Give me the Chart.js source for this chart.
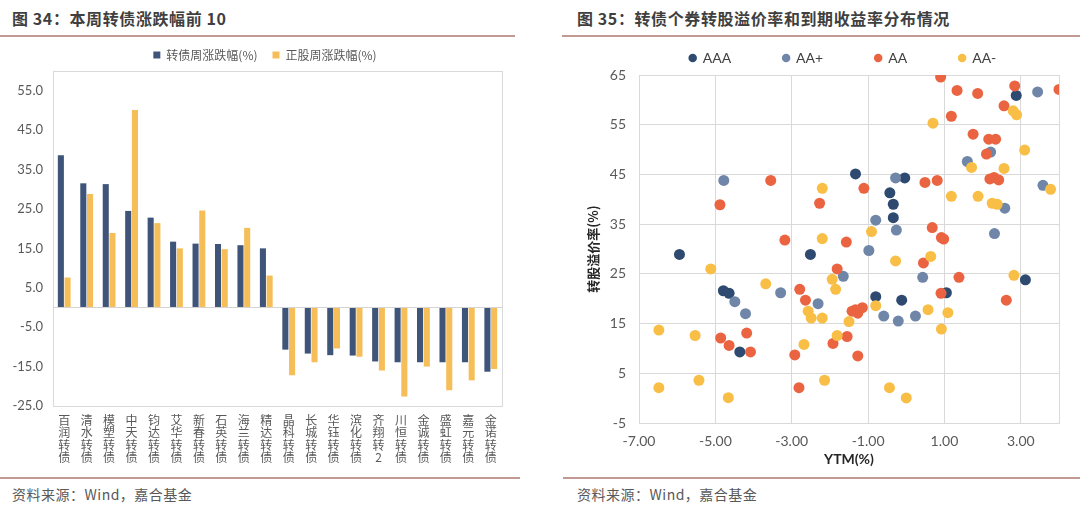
<!DOCTYPE html>
<html><head><meta charset="utf-8">
<script src="https://cdn.jsdelivr.net/npm/chart.js@4.4.0/dist/chart.umd.min.js"></script>
<style>
body{margin:0;width:1080px;height:510px;background:#fff;position:relative;overflow:hidden;font-family:"Noto Sans CJK SC",sans-serif;}
.title{position:absolute;top:6px;font-size:16px;font-weight:bold;color:#3f3f3f;letter-spacing:0.6px;white-space:nowrap}
.rule{position:absolute;height:1.5px;background:#c29a94}
.src{position:absolute;top:484px;font-size:14px;color:#595959;white-space:nowrap;letter-spacing:0.5px}
canvas{position:absolute}
</style></head>
<body>
<div class="title" style="left:12px">图 34：本周转债涨跌幅前 10</div>
<div class="rule" style="left:0;top:35px;width:515px"></div>
<div class="title" style="left:577px">图 35：转债个券转股溢价率和到期收益率分布情况</div>
<div class="rule" style="left:562px;top:35px;width:518px"></div>
<canvas id="c1" width="530" height="440" style="left:0;top:40px"></canvas>
<canvas id="c2" width="540" height="435" style="left:540px;top:40px"></canvas>
<div class="rule" style="left:0;top:477px;width:520px"></div>
<div class="rule" style="left:563px;top:477px;width:517px"></div>
<div class="src" style="left:12px">资料来源：Wind，嘉合基金</div>
<div class="src" style="left:577px">资料来源：Wind，嘉合基金</div>
<script>
// ---- Figure 34 data ----
const bondNames = ['百润转债','清水转债','模塑转债','中天转债','钧达转债','艾华转债','新春转债','石英转债','海兰转债','精达转债',
  '晶科转债','长城转债','华钰转债','滨化转债','齐翔转2','川恒转债','金诚转债','盛虹转债','嘉元转债','金诺转债'];
const bondWeekly = [38.6, 31.5, 31.3, 24.5, 22.8, 16.7, 16.2, 16.1, 15.8, 15.0,
  -10.7, -11.7, -12.1, -12.2, -13.7, -13.9, -13.9, -13.9, -13.9, -16.3];
const stockWeekly = [7.6, 28.8, 18.9, 50.1, 21.4, 15.0, 24.6, 14.8, 20.2, 8.1,
  -17.2, -13.9, -10.4, -12.5, -16.0, -22.6, -15.0, -21.0, -18.5, -15.6];
const barTicks = [-25, -15, -5, 5, 15, 25, 35, 45, 55];

// ---- Figure 35 data ----
const aaaX = [-5.94, -4.79, -4.64, -4.36, -1.33, -0.04, -0.43, -0.34, -0.34, -2.51, -0.80, -0.12, 2.88, 3.12, 1.05];
const aaaY = [28.9, 21.6, 21.1, 9.3, 45.1, 44.3, 41.3, 39.0, 36.3, 28.9, 20.4, 19.7, 60.9, 23.8, 21.2];
const aaPlusX = [-4.78, -4.49, -4.21, -3.29, -0.28, -0.80, -0.26, -0.98, -1.65, -2.31, -0.59, -0.21, 0.24, 3.44, 2.21, 1.60, 3.58, 2.58, 2.31, 0.43];
const aaPlusY = [43.8, 19.4, 17.0, 21.2, 44.3, 35.8, 33.8, 29.7, 24.5, 19.0, 16.5, 15.5, 16.5, 61.6, 49.5, 47.6, 42.8, 38.2, 33.1, 24.3];
const aaX = [-3.55, -4.88, -3.18, -4.86, -4.64, -4.08, -4.18, -1.11, -2.27, -1.57, -1.81, -2.79, -2.64, -1.42, -1.27, -1.15, -1.33,
  -1.55, -1.92, -2.92, -1.27, -2.81, 0.90, 1.33, 1.87, 2.84, 4.00, 2.56, 1.18, 1.75, 2.16, 2.34, 2.10, 0.49, 0.81, 2.19, 2.42, 2.30,
  0.68, 0.92, 0.98, 0.45, 1.38, 0.91, 2.62];
const aaY = [43.8, 38.9, 31.8, 12.1, 10.6, 9.3, 13.1, 42.2, 39.2, 31.4, 26.0, 21.9, 19.7, 17.5, 17.1, 18.2, 17.8,
  12.4, 11.0, 8.7, 8.5, 2.1, 64.6, 61.9, 61.3, 62.8, 62.1, 58.8, 56.7, 53.1, 52.1, 52.1, 49.1, 43.4, 43.8, 44.1, 43.9, 44.4,
  34.3, 32.3, 32.0, 27.2, 24.3, 21.1, 19.7];
const aaMinusX = [-5.12, -3.68, -6.48, -5.53, -6.48, -5.43, -4.66, -2.20, -0.91, -2.20, -0.28, -1.94, -1.85, -2.57, -2.49, -2.20,
  -0.80, -1.50, -1.81, -2.68, -2.14, -0.44, 0.00, 2.80, 2.89, 0.70, 3.10, 1.71, 2.56, 3.78, 1.18, 1.88, 2.25, 2.38, 0.64, 2.82,
  0.57, 1.09, 0.92];
const aaMinusY = [26.0, 23.0, 13.7, 12.6, 2.1, 3.6, 0.1, 42.2, 33.5, 32.1, 27.6, 23.9, 21.9, 17.5, 16.1, 16.1,
  18.6, 15.4, 12.6, 10.8, 3.6, 2.1, 0.05, 57.8, 57.0, 55.3, 49.9, 46.4, 46.2, 42.0, 40.6, 40.6, 39.2, 39.0, 28.5, 24.7,
  17.8, 17.2, 13.9];
const ytmTicks = [-7, -5, -3, -1, 1, 3];
const premiumTicks = [-5, 5, 15, 25, 35, 45, 55, 65];

Chart.defaults.font.family = 'Lato, "Noto Sans CJK SC", sans-serif';
Chart.defaults.color = '#595959';

const framePlugin = {
  id: 'frame',
  beforeDatasetsDraw(chart, args, opts) {
    const {ctx, chartArea: a} = chart;
    ctx.save();
    ctx.strokeStyle = opts.color || '#d9d9d9';
    ctx.lineWidth = 1;
    ctx.strokeRect(Math.round(a.left) + 0.5, Math.round(a.top) + 0.5, Math.round(a.width), Math.round(a.height));
    ctx.restore();
  }
};

// invisible spacer axis on the right (keeps the legend centred like the original)
const spacerAxis = w => ({type: 'linear', position: 'right', display: true,
  grid: {display: false, drawTicks: false}, border: {display: false}, ticks: {display: false},
  afterFit: s => { s.width = w; }});

new Chart(document.getElementById('c1'), {
  type: 'bar',
  data: {
    labels: bondNames.map(n => n.split('')),
    datasets: [
      {label: '转债周涨跌幅(%)', data: bondWeekly, backgroundColor: '#3e5479', categoryPercentage: 0.6, barPercentage: 0.9},
      {label: '正股周涨跌幅(%)', data: stockWeekly, backgroundColor: '#f5be58', categoryPercentage: 0.6, barPercentage: 0.9}
    ]
  },
  options: {
    responsive: false, animation: false,
    layout: {padding: {left: 0, right: 0, top: -6, bottom: 0}},
    plugins: {
      legend: {position: 'top', maxHeight: 39,
        labels: {boxWidth: 7, boxHeight: 7, padding: 15, color: '#595959', font: {size: 12, family: '"Noto Sans CJK SC", sans-serif'}}},
      tooltip: {enabled: false},
      frame: {color: '#d9d9d9'}
    },
    scales: {
      x: {
        grid: {display: false, drawTicks: false}, border: {display: false},
        afterFit: s => { s.height = 74; },
        ticks: {autoSkip: false, maxRotation: 0, minRotation: 0, padding: 8, color: '#595959',
          font: {size: 12, lineHeight: 1.04, family: '"Noto Sans CJK SC", sans-serif'}}
      },
      y: {
        min: -25, max: 60,
        afterBuildTicks: s => { s.ticks = barTicks.concat([0]).sort((a, b) => a - b).map(v => ({value: v})); },
        afterFit: s => { s.width = 53; },
        grid: {drawTicks: false, color: c => (c.tick && c.tick.value === 0) ? '#d4d4d4' : 'rgba(0,0,0,0)'},
        border: {display: false},
        ticks: {padding: 10, color: '#595959', font: {size: 13}, callback: v => v === 0 ? '' : v.toFixed(1)}
      },
      yPad: spacerAxis(28)
    }
  },
  plugins: [framePlugin]
});

const pts = (xs, ys) => xs.map((x, i) => ({x: x, y: ys[i]}));
const ds = (label, xs, ys, color, order) => ({label, data: pts(xs, ys), backgroundColor: color, borderColor: color,
  borderWidth: 0, pointRadius: 5.5, pointHoverRadius: 5.5, order});

new Chart(document.getElementById('c2'), {
  type: 'scatter',
  data: {
    datasets: [
      ds('AAA', aaaX, aaaY, '#2e4a70', 3),
      ds('AA+', aaPlusX, aaPlusY, '#7086a8', 2),
      ds('AA', aaX, aaY, '#eb6442', 1),
      ds('AA-', aaMinusX, aaMinusY, '#f8be46', 0)
    ]
  },
  options: {
    responsive: false, animation: false,
    layout: {padding: {left: 66, right: 0, top: -41, bottom: 0}},
    plugins: {
      legend: {position: 'top', maxHeight: 80,
        labels: {usePointStyle: true, pointStyle: 'circle', boxWidth: 6, boxHeight: 6, padding: 52, color: '#404040',
          font: {size: 14}, sort: (a, b) => a.datasetIndex - b.datasetIndex}},
      tooltip: {enabled: false},
      frame: {color: '#d9d9d9'}
    },
    scales: {
      x: {
        type: 'linear', min: -7, max: 4,
        afterBuildTicks: s => { s.ticks = ytmTicks.map(v => ({value: v})); },
        afterFit: s => { s.height = 52; },
        grid: {color: '#d9d9d9', drawTicks: false}, border: {display: false},
        ticks: {padding: 10, color: '#595959', font: {size: 14}, callback: v => v.toFixed(2)},
        title: {display: true, text: 'YTM(%)', color: '#262626', font: {size: 14, weight: 'bold'}, padding: {top: 0, bottom: 7}}
      },
      y: {
        min: -5, max: 65,
        afterBuildTicks: s => { s.ticks = premiumTicks.map(v => ({value: v})); },
        afterFit: s => { s.width = 33; },
        grid: {color: '#d9d9d9', drawTicks: false}, border: {display: false},
        ticks: {padding: 13, color: '#595959', font: {size: 14}},
        title: {display: true, text: '转股溢价率(%)', color: '#262626', font: {size: 13, weight: 'bold', family: '"Noto Sans CJK SC", sans-serif'},
          padding: {top: -20.8, bottom: 0}}
      },
      yPad: spacerAxis(21)
    }
  },
  plugins: [framePlugin]
});
</script>
</body></html>
